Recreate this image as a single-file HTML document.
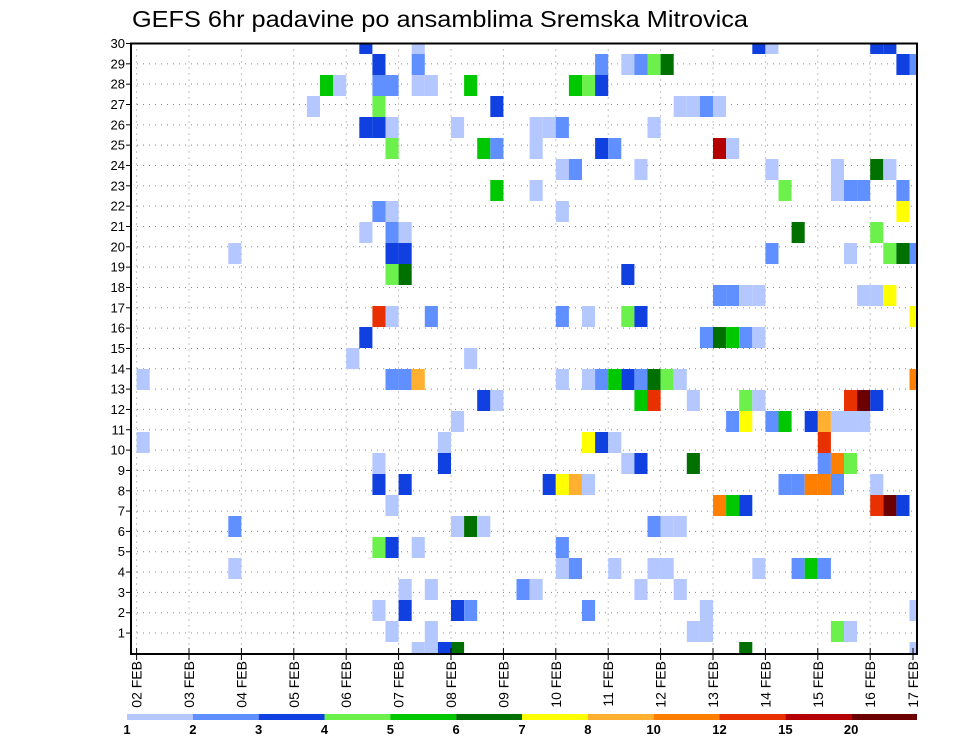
<!DOCTYPE html>
<html><head><meta charset="utf-8"><style>
body{margin:0;background:#fff;}
svg{display:block;font-family:"Liberation Sans",sans-serif;}
</style></head><body>
<svg id="chart" width="960" height="742" viewBox="0 0 960 742" xmlns="http://www.w3.org/2000/svg">
<text x="132" y="27" font-size="23" textLength="616" lengthAdjust="spacingAndGlyphs" fill="#000">GEFS 6hr padavine po ansamblima Sremska Mitrovica</text>
<defs><clipPath id="plotclip"><rect x="131" y="43.5" width="786" height="610.5"/></clipPath></defs>
<g id="grid"></g>
<g id="cells" clip-path="url(#plotclip)"></g>
<rect x="131" y="43.5" width="786" height="610.5" fill="none" stroke="#000" stroke-width="2"/>
<g id="axes"></g>
<g id="colorbar"></g>
</svg>
<script>
const dayLabels = ["02 FEB","03 FEB","04 FEB","05 FEB","06 FEB","07 FEB","08 FEB","09 FEB","10 FEB","11 FEB","12 FEB","13 FEB","14 FEB","15 FEB","16 FEB","17 FEB"];
const yTickLabels = [1,2,3,4,5,6,7,8,9,10,11,12,13,14,15,16,17,18,19,20,21,22,23,24,25,26,27,28,29,30];
const levels = [1,2,3,4,5,6,7,8,10,12,15,20];
const levelColors = ["#b4c8ff","#6090ff","#1040e0","#6cf04c","#00c800","#007000","#ffff00","#ffb030","#ff8000","#e83000","#b40000","#6c0000"];
// steps (6-hourly index from 02 FEB 00z) per ensemble band, index = member band 0 (bottom) .. 29 (top)
const stepsByMember = [
 [21,22,23,24,46,59],
 [19,22,42,43,53,54],
 [18,20,24,25,34,43,59],
 [20,22,29,30,38,41],
 [7,32,33,36,39,40,47,50,51,52],
 [18,19,21,32],
 [7,24,25,26,39,40,41],
 [19,44,45,46,56,57,58],
 [18,20,31,32,33,34,49,50,51,52,53,56],
 [18,23,37,38,42,52,53,54],
 [0,23,34,35,36,52],
 [24,45,46,48,49,51,52,53,54,55],
 [26,27,38,39,42,46,47,54,55,56],
 [0,19,20,21,32,34,35,36,37,38,39,40,41,59],
 [16,25],
 [17,43,44,45,46,47],
 [18,19,22,32,34,37,38,59],
 [44,45,46,47,55,56,57],
 [19,20,37],
 [7,19,20,48,54,57,58,59],
 [17,19,20,50,56],
 [18,19,32,58],
 [27,30,49,53,54,55,58],
 [32,33,38,48,53,56,57],
 [19,26,27,30,35,36,44,45],
 [17,18,19,24,30,31,32,39],
 [13,18,27,41,42,43,44],
 [14,15,18,19,21,22,25,33,34,35],
 [18,21,35,37,38,39,40,58,59],
 [17,21,47,48,56,57]
];
const valuesByMember = [
 [1.5,1.5,3.5,6.5,6.5,1.5],
 [1.5,1.5,1.5,1.5,4.5,1.5],
 [1.5,3.5,3.5,2.5,2.5,1.5,1.5],
 [1.5,1.5,2.5,1.5,1.5,1.5],
 [1.5,1.5,2.5,1.5,1.5,1.5,1.5,2.5,5.5,2.5],
 [4.5,3.5,1.5,2.5],
 [2.5,1.5,6.5,1.5,2.5,1.5,1.5],
 [1.5,11,5.5,3.5,13,22,3.5],
 [3.5,3.5,3.5,7.5,9,1.5,2.5,2.5,11,11,2.5,1.5],
 [1.5,3.5,1.5,3.5,6.5,2.5,11,4.5],
 [1.5,1.5,7.5,3.5,1.5,13],
 [1.5,2.5,7.5,2.5,5.5,3.5,9,1.5,1.5,1.5],
 [3.5,1.5,5.5,13,1.5,4.5,1.5,13,22,3.5],
 [1.5,2.5,2.5,9,1.5,1.5,2.5,5.5,3.5,2.5,6.5,4.5,1.5,11],
 [1.5,1.5],
 [3.5,2.5,6.5,5.5,2.5,1.5],
 [13,1.5,2.5,2.5,1.5,4.5,3.5,7.5],
 [2.5,2.5,1.5,1.5,1.5,1.5,7.5],
 [4.5,6.5,3.5],
 [1.5,3.5,3.5,2.5,1.5,4.5,6.5,2.5],
 [1.5,2.5,1.5,6.5,4.5],
 [2.5,1.5,1.5,7.5],
 [5.5,1.5,4.5,1.5,2.5,2.5,2.5],
 [1.5,2.5,1.5,1.5,1.5,6.5,1.5],
 [4.5,5.5,2.5,1.5,3.5,2.5,17,1.5],
 [3.5,3.5,1.5,1.5,1.5,1.5,2.5,1.5],
 [1.5,4.5,3.5,1.5,1.5,2.5,1.5],
 [5.5,1.5,2.5,2.5,1.5,1.5,5.5,5.5,4.5,3.5],
 [3.5,2.5,2.5,1.5,2.5,4.5,6.5,3.5,2.5],
 [3.5,1.5,3.5,1.5,3.5,3.5]
];

const NS="http://www.w3.org/2000/svg";
const X0=136.6, STEP=13.1, BAND=21, BOTTOM=663;
function xStep(s){return X0+s*STEP;}
function xDay(d){return X0+d*4*STEP;}
function yBandTop(m){return BOTTOM-(m+1)*BAND;}
function yTick(v){return 43.5+(30-v)*(610.5/30.03);}
function colorFor(v){let i=0;for(let k=0;k<levels.length;k++){if(v>=levels[k])i=k;}return levelColors[i];}
function mk(tag,attrs,parent){const e=document.createElementNS(NS,tag);for(const k in attrs)e.setAttribute(k,attrs[k]);parent.appendChild(e);return e;}

const grid=document.getElementById('grid');
const cells=document.getElementById('cells');
const axes=document.getElementById('axes');
const cbar=document.getElementById('colorbar');

// gridlines
yTickLabels.forEach(v=>{
  const y=yTick(v);
  const l=mk('line',{x1:131,x2:917,y1:y,y2:y,stroke:"#888","stroke-width":1,"stroke-dasharray":"1 5"},grid);
  
  
  const t=mk('line',{x1:126,x2:131,y1:y,y2:y,stroke:"#000","stroke-width":1},axes);
  
  
  const tx=mk('text',{x:125,y:y+4.5,"font-size":13,"text-anchor":"end",fill:"#000"},axes);
  
  
  tx.textContent=v;
});
dayLabels.forEach((lab,d)=>{
  const x=xDay(d);
  if(x<917){
    const l=mk('line',{x1:x,x2:x,y1:43.5,y2:654,stroke:"#888","stroke-width":1,"stroke-dasharray":"1 5"},grid);
    
    
  }
  const xt=Math.min(x,913);
  const t=mk('line',{x1:xt,x2:xt,y1:648,y2:660,stroke:"#000","stroke-width":1},axes);
  
  
  const tx=mk('text',{x:0,y:0,"font-size":14,"text-anchor":"end",fill:"#000",transform:`translate(${xt+5},661) rotate(-90)`},axes);
  
  
  tx.textContent=lab;
});

// cells
stepsByMember.forEach((steps,m)=>{
  steps.forEach((s,i)=>{
    const r=mk('rect',{x:xStep(s),y:yBandTop(m),width:STEP,height:BAND,fill:colorFor(valuesByMember[m][i])},cells);
    
    
  });
});

// colorbar
const cbX=127, cbW=(917-127)/levels.length;
levels.forEach((lv,i)=>{
  const r=mk('rect',{x:cbX+i*cbW,y:714,width:cbW,height:6,fill:levelColors[i]},cbar);
  
  
  const t=mk('text',{x:cbX+i*cbW,y:734,"font-size":13,"font-weight":"bold","text-anchor":"middle",fill:"#000"},cbar);
  
  
  t.textContent=lv;
});
</script>
</body></html>
